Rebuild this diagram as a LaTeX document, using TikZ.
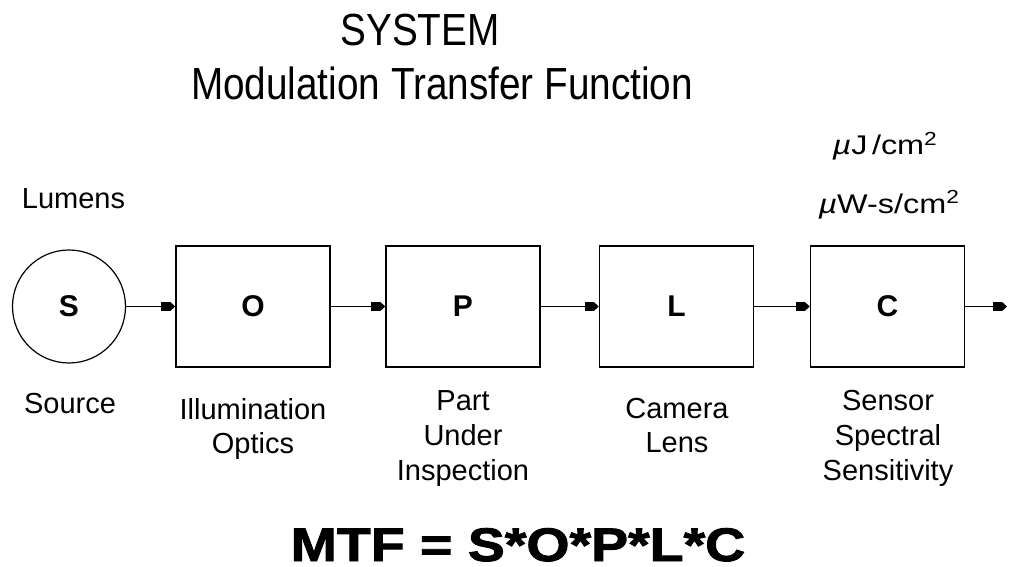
\documentclass[tikz,border=0pt]{standalone}
\usepackage{fontspec}
\setmainfont{Liberation Sans}
\newfontfamily\titlefont{Liberation Sans}[FakeStretch=0.86]
\newfontfamily\unitfont{Liberation Sans}[FakeStretch=1.2]
\newfontfamily\formulafont{Liberation Sans Bold}[FakeStretch=1.18, FakeBold=2]
\usetikzlibrary{arrows.meta}

\tikzset{
  block/.style={draw, line width=1.6pt, minimum width=154pt, minimum height=121pt,
                inner sep=0pt, font=\fontsize{30}{30}\selectfont\bfseries},
  srcnode/.style={draw, circle, line width=1.2pt, minimum size=113pt,
                inner sep=0pt, font=\fontsize{30}{30}\selectfont\bfseries},
  caption/.style={align=center, inner sep=0pt, anchor=north,
                font=\fontsize{29}{34}\selectfont},
  tallcaption/.style={caption, font=\fontsize{29}{35}\selectfont},
  unit/.style={inner sep=0pt, anchor=base, font=\fontsize{27}{27}\unitfont},
  flow/.style={line width=1.4pt,
     -{Rectangle[length=9pt,width=9pt,sep=0pt]Triangle[length=5pt,width=9pt]}},
}

\begin{document}
\begin{tikzpicture}[x=1pt,y=-1pt]
  \useasboundingbox (0,0) rectangle (1010,567);

  % title
  \node[inner sep=0pt, anchor=base, font=\fontsize{45}{45}\titlefont] (t1) at (420,46) {SYSTEM};
  \node[inner sep=0pt, anchor=base, font=\fontsize{45}{45}\titlefont] (t2) at (442,100) {Modulation Transfer Function};

  % units
  \node[inner sep=0pt, anchor=base, font=\fontsize{29}{29}\selectfont] (lum) at (73.5,208) {Lumens};
  \node[unit] (uj)  at (885,155) {\textit{µ}J\,/cm\textsuperscript{2}};
  \node[unit] (uw)  at (889,213) {\textit{µ}W-s/cm\textsuperscript{2}};

  % chain of blocks
  \node[srcnode] (S) at (69,306.5) {S};
  \node[block] (O) at (253,306.5) {O};
  \node[block] (P) at (463,306.5) {P};
  \node[block] (L) at (676.5,306.5) {L};
  \node[block] (C) at (887.5,306.5) {C};
  \coordinate (out) at (1007,306.5);

  \draw[flow] (S.east) -- (O.west);
  \draw[flow] (O.east) -- (P.west);
  \draw[flow] (P.east) -- (L.west);
  \draw[flow] (L.east) -- (C.west);
  \draw[flow] (C.east) -- (out);

  % captions
  \node[caption] (cs) at (70,393) {Source};
  \node[caption] (co) at (253,398) {Illumination\\Optics};
  \node[tallcaption] (cp) at (463,390) {Part\\Under\\Inspection};
  \node[caption] (cl) at (677,398) {Camera\\Lens};
  \node[tallcaption] (cc) at (888,390) {Sensor\\Spectral\\Sensitivity};

  % formula
  \node[inner sep=0pt, anchor=base, font=\fontsize{47}{47}\formulafont] (mtf) at (518,561) {MTF = S*O*P*L*C};
\end{tikzpicture}
\end{document}
